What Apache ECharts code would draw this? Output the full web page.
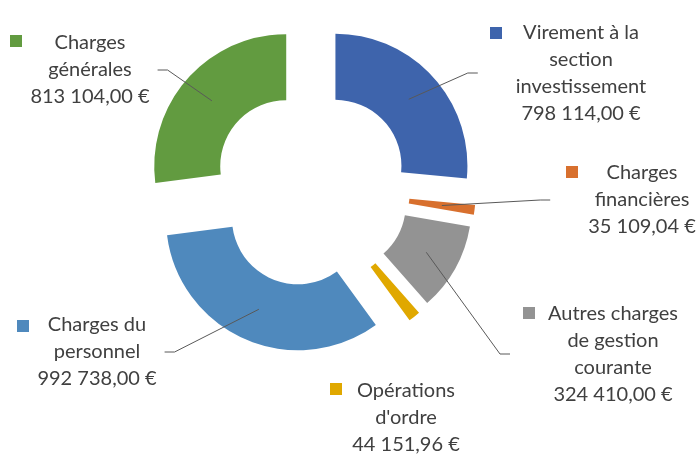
<!DOCTYPE html>
<html>
<head>
<meta charset="utf-8">
<script src="https://cdn.jsdelivr.net/npm/echarts@6/dist/echarts.min.js"></script>
<style>
  html, body { margin: 0; padding: 0; background: #fff; }
  #main { width: 697px; height: 454px; }
</style>
</head>
<body>
<div id="main"></div>
<script>
// catégories, dans le sens horaire depuis midi
var categories = [
  'Virement à la\nsection\ninvestissement',
  'Charges\nfinancières',
  'Autres charges\nde gestion\ncourante',
  "Opérations\nd'ordre",
  'Charges du\npersonnel',
  'Charges\ngénérales'
];
var amounts = [798114.00, 35109.04, 324410.00, 44151.96, 992738.00, 813104.00];
var colors = ['#3e64ac', '#d8702e', '#939393', '#e0a800', '#4f89bd', '#629b40'];

// placement des étiquettes (centre du texte, carré de légende, côté du trait)
var textPos = [[581, 73], [642, 200], [613, 354], [406, 418], [97, 352], [90, 70]];
var markPos = [[496, 33], [572, 172], [529, 313], [336, 389], [23, 326], [16, 41]];
var lineSide = ['left', 'left', 'left', null, 'right', 'right'];

var CENTER = [311, 188];
var OFFSET = 33;

function euro(v) {
  var p = v.toFixed(2).split('.');
  return p[0].replace(/\B(?=(\d{3})+(?!\d))/g, ' ') + ',' + p[1] + ' €';
}

function padFor(i) {
  if (lineSide[i] === 'left') return [0, 0, 0, 38];
  if (lineSide[i] === 'right') return [0, 8, 0, 0];
  return [0, 0, 0, 0];
}

// anneau invisible commun (sert de support aux étiquettes), dessiné au-dessus
function ghost(extra) {
  var s = {
    type: 'pie',
    z: 5,
    center: CENTER,
    startAngle: 90,
    clockwise: true,
    avoidLabelOverlap: false,
    silent: true,
    emphasis: { disabled: true },
    itemStyle: { color: 'rgba(0,0,0,0)', borderWidth: 0 }
  };
  for (var k in extra) s[k] = extra[k];
  return s;
}

var chart = echarts.init(document.getElementById('main'));

var option = {
  animation: false,
  backgroundColor: '#fff',
  series: [{
    // anneau visible, parts éclatées
    type: 'pie',
    z: 1,
    center: CENTER,
    radius: [66, 132],
    startAngle: 90,
    clockwise: true,
    selectedMode: 'multiple',
    selectedOffset: OFFSET,
    silent: true,
    emphasis: { disabled: true },
    label: { show: false },
    labelLine: { show: false },
    data: amounts.map(function (v, i) {
      return { value: v, name: categories[i], selected: true, itemStyle: { color: colors[i] } };
    })
  },
  // carrés de légende
  ghost({
    radius: [131, 132],
    label: { show: true, position: 'outside', formatter: '{s| }' },
    labelLine: { show: false },
    labelLayout: function (p) {
      var m = markPos[p.dataIndex];
      return { x: m[0], y: m[1], align: 'center', verticalAlign: 'middle' };
    },
    data: amounts.map(function (v, i) {
      return {
        value: v,
        name: categories[i],
        label: { rich: { s: { width: 12, height: 12, fontSize: 1, backgroundColor: colors[i] } } }
      };
    })
  }),
  // textes + traits de rappel (ancre au milieu de l'anneau éclaté : 33 + 99 = 132)
  ghost({
    radius: [131, OFFSET + 99],
    label: {
      show: true,
      position: 'outside',
      fontFamily: 'Lato',
      fontSize: 20,
      lineHeight: 27,
      color: '#404040',
      align: 'center',
      formatter: function (p) { return categories[p.dataIndex] + '\n' + euro(p.value); }
    },
    labelLine: {
      show: true,
      length: 10,
      length2: 10,
      lineStyle: { color: '#595959', width: 1 }
    },
    labelLayout: function (p) {
      var t = textPos[p.dataIndex];
      var pad = padFor(p.dataIndex);
      return { x: t[0] - (pad[3] - pad[1]) / 2, y: t[1], align: 'center', verticalAlign: 'middle' };
    },
    data: amounts.map(function (v, i) {
      return {
        value: v,
        name: categories[i],
        label: { padding: padFor(i) },
        labelLine: { show: lineSide[i] !== null }
      };
    })
  })]
};

chart.setOption(option);
</script>
</body>
</html>
